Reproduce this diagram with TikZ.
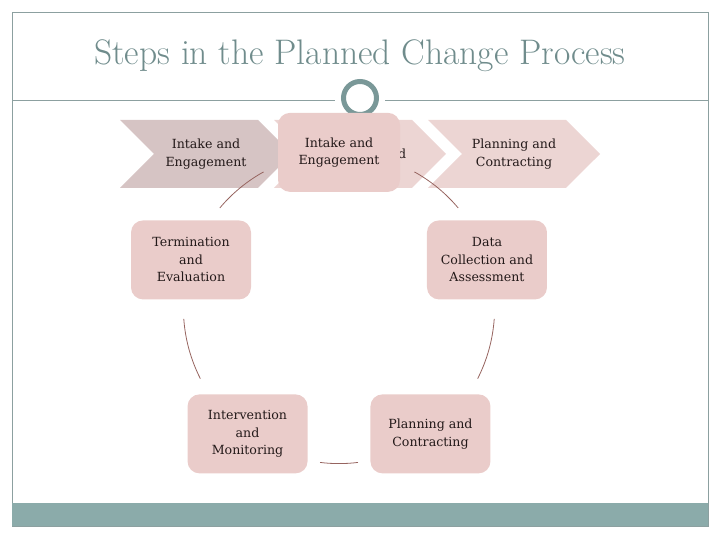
\documentclass[tikz,border=0pt]{standalone}
\usepackage{fontspec}
\newfontfamily\slabfont{DejaVu Serif}
\usetikzlibrary{shapes.symbols}
\definecolor{slideTeal}{RGB}{139,171,170}
\definecolor{frameGray}{RGB}{140,160,160}
\definecolor{ringTeal}{RGB}{122,152,152}
\definecolor{titleGray}{RGB}{112,140,140}
\definecolor{chevDark}{RGB}{214,196,196}
\definecolor{chevLight}{RGB}{236,213,211}
\definecolor{boxPink}{RGB}{234,204,202}
\definecolor{arcBrown}{RGB}{150,100,95}
\definecolor{inkDark}{RGB}{35,25,25}
\newcommand{\stepfont}{\slabfont\fontsize{12.6}{17.5}\selectfont}

\begin{document}
\begin{tikzpicture}[x=1pt,y=1pt,
    chevron/.style={shape=signal,signal to=east,signal from=west,signal pointer angle=90,minimum width=172pt,minimum height=68pt,inner sep=0pt,align=center,font=\stepfont,text=inkDark},
    stepbox/.style={fill=boxPink,rounded corners=12pt,minimum width=120pt,minimum height=79pt,inner sep=2pt,align=center,font=\stepfont,text=inkDark},
    cycarc/.style={draw=arcBrown,line width=0.8pt}
  ]
    \useasboundingbox (0,0) rectangle (720,540);
    % slide frame and footer bar
    \draw[frameGray,line width=0.8pt] (12,14) rectangle (708,528);
    \fill[slideTeal] (12,14) rectangle (708,37);
    \node[font=\fontsize{35.5}{40}\selectfont,text=titleGray] (title) at (360,484) {Steps in the Planned Change Process};
    \coordinate (ring) at (360,442);
    \draw[frameGray,line width=0.8pt] (12,440) -- (335,440) (385,440) -- (708,440);
    \draw[ringTeal,line width=5pt] (ring) circle[radius=16.5pt];
    % chevron row
    \node[chevron,fill=chevDark] (chevA) at (206,386) {Intake and\\Engagement};
    \node[chevron,fill=chevLight] (chevB) at (360,386) {Data\\Collection and\\Assessment};
    \node[chevron,fill=chevLight] (chevC) at (514,386) {Planning and\\Contracting};
    % cycle
    \coordinate (hub) at (339,232);
    \def\cycR{155.6}
    \node[stepbox] (collect) at ([shift={(18:\cycR)}]hub) {Data\\Collection and\\Assessment};
    \node[stepbox] (plan) at ([shift={(-54:\cycR)}]hub) {Planning and\\Contracting};
    \node[stepbox] (interv) at ([shift={(-126:\cycR)}]hub) {Intervention\\and\\Monitoring};
    \node[stepbox] (term) at ([shift={(162:\cycR)}]hub) {Termination\\and\\Evaluation};
    \draw[cycarc] ([shift={(61:\cycR)}]hub) arc[start angle=61,end angle=40,radius=\cycR];
    \draw[cycarc] ([shift={(-4:\cycR)}]hub) arc[start angle=-4,end angle=-27,radius=\cycR];
    \draw[cycarc] ([shift={(-83:\cycR)}]hub) arc[start angle=-83,end angle=-97,radius=\cycR];
    \draw[cycarc] ([shift={(-153:\cycR)}]hub) arc[start angle=-153,end angle=-176,radius=\cycR];
    \draw[cycarc] ([shift={(140:\cycR)}]hub) arc[start angle=140,end angle=119,radius=\cycR];
    \node[stepbox,minimum width=122pt] (intake) at ([shift={(90:\cycR)}]hub) {Intake and\\Engagement};
  \end{tikzpicture}
\end{document}
